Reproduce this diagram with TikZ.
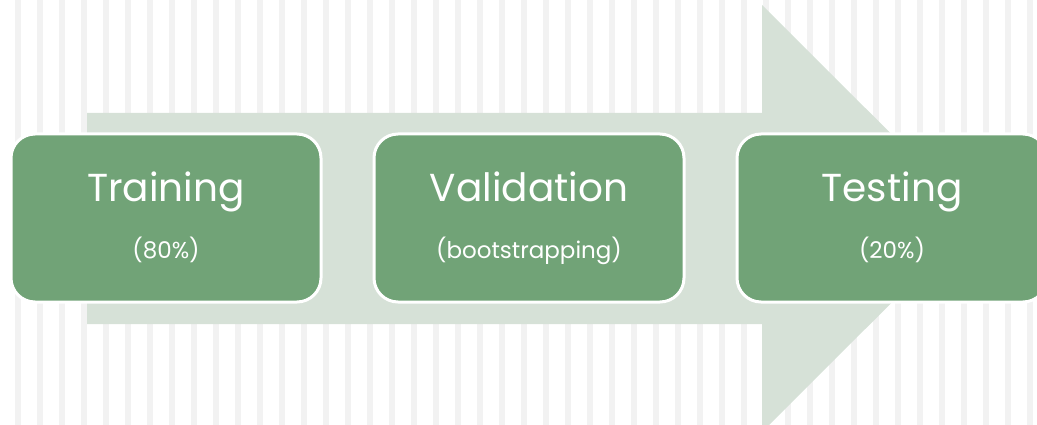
\documentclass[tikz,border=0pt]{standalone}
\usepackage{fontspec}
\setmainfont{Poppins}
\usetikzlibrary{positioning}
\definecolor{stripegray}{HTML}{F2F2F2}
\definecolor{arrowgreen}{HTML}{D6E1D7}
\definecolor{boxgreen}{HTML}{71A377}
\newcommand{\stagetitle}[1]{{\fontsize{39}{44}\selectfont\vphantom{Tg}#1}}
\newcommand{\stagenote}[1]{{\fontsize{23}{28}\selectfont\vphantom{(pg)}#1}}

\begin{document}
\begin{tikzpicture}[x=1pt,y=-1pt,
  stage/.style={draw=white, line width=3pt, fill=boxgreen, rounded corners=24pt,
    minimum width=310pt, minimum height=168pt, text=white, align=center, inner sep=0pt},
  node distance=50pt]
  % frame and striped background
  \clip (0,0) rectangle (1037,425);
  \foreach \x in {15,37,...,1037}
    \fill[stripegray] (\x,0) rectangle ++(6,425);
  % big arrow behind the stages
  \fill[arrowgreen] (87,113) -- (762,113) -- (762,5) -- (976,218.5)
    -- (762,432) -- (762,324) -- (87,324) -- cycle;
  % the three stages
  \node[stage] (train) at (166,218) {\stagetitle{Training}\\[24pt]\stagenote{(80\%)}};
  \node[stage, right=of train] (valid) {\stagetitle{Validation}\\[24pt]\stagenote{(bootstrapping)}};
  \node[stage, right=of valid] (test) {\stagetitle{Testing}\\[24pt]\stagenote{(20\%)}};
\end{tikzpicture}
\end{document}
